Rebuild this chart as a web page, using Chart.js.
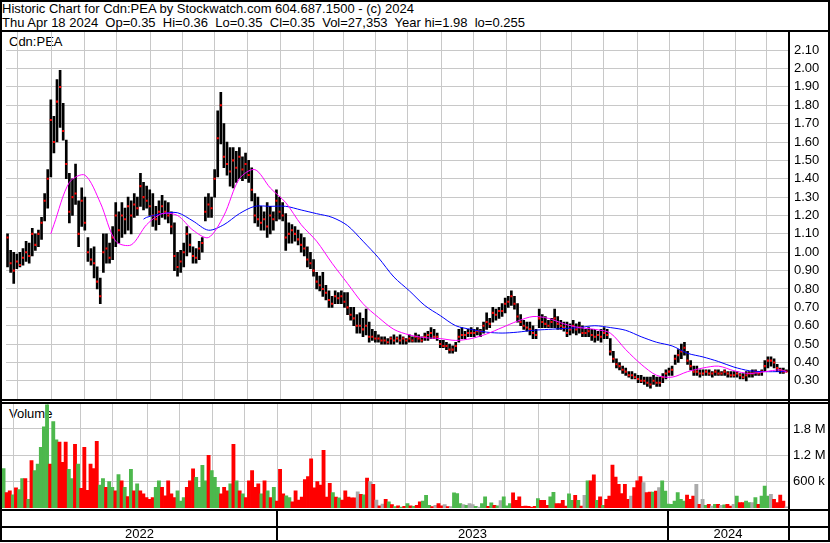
<!DOCTYPE html>
<html>
<head>
<meta charset="utf-8">
<script src="https://cdn.jsdelivr.net/npm/chart.js@4.4.1/dist/chart.umd.min.js"></script>
<style>
  body { margin: 0; background: #fff; }
  #wrap { position: relative; width: 830px; height: 543px; overflow: hidden;
          font-family: "Liberation Sans", Arial, sans-serif; font-size: 13px; color: #000; background: #fff; }
  .txt { position: absolute; white-space: pre; line-height: 15px; }
  .ln { position: absolute; background: #000; }
  canvas { position: absolute; }
</style>
</head>
<body>
<div id="wrap">
  <div class="txt" style="left:2px;top:1px">Historic Chart for Cdn:PEA by Stockwatch.com 604.687.1500 - (c) 2024</div>
  <div class="txt" style="left:2px;top:15px">Thu Apr 18 2024  Op=0.35  Hi=0.36  Lo=0.35  Cl=0.35  Vol=27,353  Year hi=1.98  lo=0.255</div>
  <div class="txt" style="left:9px;top:34px">Cdn:PEA</div>
  <div class="txt" style="left:9px;top:406px">Volume</div>
  <canvas id="price" width="826" height="367" style="left:2px;top:32px"></canvas>
  <canvas id="volume" width="826" height="136" style="left:2px;top:404px"></canvas>
  <div class="ln" style="left:0;top:0;width:830px;height:2px"></div>
  <div class="ln" style="left:0;top:0;width:2px;height:542px"></div>
  <div class="ln" style="left:828px;top:0;width:2px;height:542px"></div>
  <div class="ln" style="left:0;top:540px;width:830px;height:2px"></div>
  <div class="ln" style="left:0;top:30px;width:830px;height:2px"></div>
  <div class="ln" style="left:788px;top:32px;width:2px;height:509px"></div>
  <div class="ln" style="left:0;top:399px;width:830px;height:2px"></div>
  <div class="ln" style="left:0;top:402px;width:830px;height:2px"></div>
  <div class="ln" style="left:0;top:509px;width:830px;height:2px"></div>
  <div class="ln" style="left:0;top:526px;width:830px;height:2px"></div>
</div>
<script>
// one bar = two trading days, Apr 2022 .. Apr 18 2024
const hi = [
  1.10,1.01,1.00,0.99,1.00,1.02,1.06,1.05,1.13,1.10,
  1.12,1.19,1.32,1.45,1.83,1.74,1.94,1.99,1.81,1.61,
  1.43,1.40,1.48,1.28,1.35,1.30,1.08,1.02,1.03,0.92,
  0.86,1.10,1.10,1.05,1.14,1.27,1.22,1.27,1.24,1.30,
  1.28,1.32,1.30,1.43,1.38,1.36,1.34,1.32,1.25,1.28,
  1.31,1.28,1.27,1.22,1.16,1.00,1.01,1.05,1.14,1.10,
  1.03,1.02,1.06,1.08,1.30,1.32,1.30,1.45,1.77,1.87,
  1.70,1.60,1.57,1.57,1.55,1.57,1.52,1.54,1.50,1.46,
  1.32,1.30,1.25,1.22,1.27,1.25,1.22,1.34,1.30,1.27,
  1.21,1.16,1.15,1.14,1.12,1.10,1.08,1.03,1.00,0.96,
  0.89,0.87,0.89,0.82,0.79,0.76,0.79,0.78,0.79,0.78,
  0.78,0.70,0.70,0.66,0.67,0.64,0.69,0.62,0.58,0.57,
  0.55,0.54,0.54,0.53,0.54,0.55,0.54,0.55,0.54,0.53,
  0.55,0.54,0.56,0.55,0.54,0.56,0.57,0.59,0.58,0.56,
  0.52,0.52,0.51,0.50,0.49,0.51,0.58,0.59,0.57,0.58,
  0.59,0.58,0.59,0.58,0.62,0.67,0.64,0.70,0.69,0.70,
  0.72,0.75,0.76,0.79,0.76,0.72,0.66,0.63,0.62,0.62,
  0.60,0.58,0.69,0.66,0.65,0.63,0.64,0.69,0.65,0.63,
  0.62,0.62,0.61,0.63,0.61,0.62,0.60,0.58,0.59,0.58,
  0.58,0.57,0.58,0.59,0.58,0.53,0.46,0.42,0.40,0.38,
  0.37,0.35,0.35,0.34,0.33,0.33,0.32,0.32,0.32,0.33,
  0.32,0.32,0.34,0.36,0.37,0.38,0.44,0.47,0.50,0.51,
  0.46,0.41,0.38,0.38,0.36,0.36,0.36,0.36,0.35,0.36,
  0.36,0.35,0.36,0.35,0.35,0.35,0.35,0.34,0.34,0.35,
  0.35,0.36,0.36,0.35,0.36,0.41,0.43,0.43,0.42,0.39,0.37,0.37,0.36
];
const lo = [
  0.92,0.89,0.83,0.91,0.92,0.93,0.95,0.94,0.98,1.01,
  1.03,1.07,1.17,1.24,1.41,1.54,1.60,1.68,1.61,1.40,
  1.16,1.20,1.26,1.03,1.14,1.12,0.95,0.93,0.86,0.80,
  0.72,0.89,0.94,0.94,0.96,1.03,1.05,1.08,1.10,1.12,
  1.10,1.19,1.20,1.25,1.23,1.24,1.20,1.14,1.12,1.15,
  1.19,1.18,1.16,1.10,0.90,0.87,0.89,0.92,0.98,1.00,
  0.94,0.94,0.96,1.00,1.17,1.19,1.19,1.30,1.41,1.59,
  1.46,1.42,1.36,1.35,1.38,1.40,1.39,1.40,1.38,1.28,
  1.16,1.14,1.12,1.12,1.08,1.10,1.12,1.17,1.18,1.17,
  1.01,1.05,1.05,1.06,1.04,1.00,0.98,0.92,0.91,0.87,
  0.80,0.79,0.76,0.74,0.70,0.70,0.72,0.72,0.72,0.70,
  0.66,0.63,0.60,0.56,0.56,0.54,0.55,0.51,0.52,0.51,
  0.51,0.50,0.50,0.50,0.50,0.50,0.51,0.50,0.50,0.50,
  0.51,0.51,0.51,0.51,0.51,0.52,0.52,0.53,0.53,0.52,
  0.48,0.48,0.47,0.45,0.45,0.46,0.51,0.53,0.53,0.54,
  0.54,0.54,0.55,0.54,0.56,0.58,0.59,0.62,0.63,0.64,
  0.65,0.67,0.70,0.71,0.69,0.62,0.60,0.58,0.57,0.55,
  0.53,0.53,0.59,0.59,0.59,0.59,0.59,0.59,0.58,0.58,
  0.57,0.54,0.55,0.56,0.55,0.56,0.54,0.54,0.54,0.52,
  0.51,0.52,0.51,0.53,0.53,0.44,0.40,0.37,0.36,0.34,
  0.33,0.32,0.31,0.31,0.29,0.29,0.28,0.27,0.26,0.28,
  0.27,0.27,0.29,0.31,0.33,0.33,0.39,0.40,0.42,0.44,
  0.39,0.36,0.33,0.33,0.32,0.33,0.33,0.33,0.32,0.33,
  0.33,0.33,0.33,0.32,0.32,0.32,0.32,0.31,0.31,0.30,
  0.32,0.32,0.33,0.33,0.33,0.35,0.37,0.38,0.37,0.35,0.34,0.34,0.35
];
const cl = [
  1.08,0.94,0.90,0.95,0.93,0.97,1.00,0.98,1.10,1.04,
  1.10,1.16,1.28,1.40,1.72,1.60,1.82,1.90,1.66,1.48,
  1.22,1.30,1.32,1.10,1.28,1.16,1.00,0.96,0.94,0.84,
  0.76,1.00,1.02,0.97,1.08,1.20,1.12,1.20,1.18,1.25,
  1.20,1.26,1.24,1.36,1.30,1.28,1.25,1.20,1.18,1.22,
  1.25,1.22,1.20,1.14,0.98,0.92,0.95,1.00,1.10,1.04,
  0.98,0.97,1.02,1.05,1.22,1.26,1.24,1.40,1.62,1.80,
  1.52,1.48,1.44,1.50,1.46,1.52,1.45,1.48,1.42,1.34,
  1.20,1.18,1.16,1.18,1.14,1.20,1.18,1.28,1.22,1.20,
  1.08,1.10,1.12,1.10,1.07,1.04,1.02,0.96,0.94,0.90,
  0.84,0.82,0.80,0.78,0.74,0.72,0.76,0.75,0.76,0.73,
  0.70,0.66,0.64,0.60,0.60,0.58,0.60,0.54,0.54,0.53,
  0.53,0.52,0.52,0.51,0.53,0.52,0.53,0.52,0.53,0.52,
  0.53,0.52,0.54,0.53,0.52,0.54,0.55,0.56,0.54,0.54,
  0.50,0.49,0.49,0.47,0.47,0.49,0.54,0.55,0.55,0.56,
  0.56,0.56,0.57,0.57,0.60,0.62,0.61,0.67,0.66,0.68,
  0.68,0.72,0.73,0.76,0.72,0.65,0.62,0.60,0.59,0.58,
  0.56,0.55,0.64,0.62,0.61,0.60,0.62,0.64,0.61,0.60,
  0.59,0.56,0.58,0.60,0.58,0.59,0.56,0.56,0.57,0.55,
  0.54,0.55,0.54,0.56,0.55,0.46,0.42,0.39,0.38,0.36,
  0.35,0.33,0.33,0.32,0.31,0.30,0.30,0.29,0.28,0.30,
  0.29,0.29,0.32,0.34,0.35,0.36,0.42,0.44,0.46,0.48,
  0.41,0.38,0.35,0.35,0.34,0.34,0.35,0.34,0.34,0.35,
  0.34,0.34,0.35,0.34,0.33,0.33,0.34,0.33,0.32,0.33,
  0.34,0.34,0.35,0.34,0.35,0.38,0.41,0.41,0.40,0.37,0.36,0.35,0.35
];
// volume in thousands of shares
const volK = [
  900,350,390,300,460,420,670,670,200,1080,
  850,1000,1380,1850,2350,1000,1970,1550,1500,1040,
  1500,880,670,1450,1000,450,1380,400,1000,900,
  1520,520,670,470,600,470,390,760,620,470,
  260,880,390,550,390,320,240,200,240,470,
  620,470,280,620,320,240,390,160,240,470,
  620,890,700,470,970,620,1200,850,700,470,
  320,470,390,550,1450,620,390,320,240,620,
  850,470,550,320,620,390,240,470,160,880,
  320,280,240,140,390,180,250,650,715,1120,
  460,600,520,1315,250,560,350,250,230,180,
  390,250,230,230,370,310,300,680,600,540,
  180,50,90,200,140,80,30,50,20,40,
  100,50,40,60,140,160,290,60,30,60,
  100,50,80,30,30,345,330,100,80,60,
  100,80,40,20,100,254,40,120,60,50,
  170,254,50,100,345,177,254,40,46,40,
  20,40,215,177,177,62,254,355,100,100,
  177,46,320,177,290,177,46,290,620,620,
  754,177,254,62,200,274,980,707,540,327,
  540,198,274,464,616,714,578,350,360,360,
  388,464,616,388,90,84,160,350,198,160,
  296,198,274,540,84,198,60,84,46,84,
  84,60,70,84,46,84,274,122,122,160,
  122,122,236,84,274,500,274,312,198,122,296,160,27
];
// moving averages, read at bar positions
const maFastIdx = [14,15,20,25,30,35,40,45,50,55,60,65,70,75,80,85,90,95,100,105,110,115,120,125,130,135,140,145,150,155,160,165,170,175,180,185,190,195,200,205,210,215,220,225,230,235,240,245,250,252];
const maFast = [1.10,1.15,1.38,1.42,1.27,1.06,1.04,1.15,1.21,1.20,1.12,1.08,1.20,1.40,1.45,1.35,1.27,1.15,1.06,0.94,0.83,0.72,0.645,0.58,0.55,0.535,0.53,0.52,0.53,0.555,0.59,0.625,0.65,0.64,0.61,0.59,0.58,0.56,0.47,0.39,0.33,0.32,0.35,0.37,0.38,0.355,0.34,0.35,0.36,0.35];
const maSlowIdx = [44,45,50,55,60,65,70,75,80,85,90,95,100,105,110,115,120,125,130,135,140,145,150,155,160,165,170,175,180,185,190,195,200,205,210,215,220,225,230,235,240,245,250,252];
const maSlow = [1.18,1.19,1.21,1.215,1.17,1.12,1.15,1.21,1.25,1.25,1.25,1.23,1.21,1.19,1.145,1.06,0.97,0.865,0.79,0.71,0.655,0.60,0.58,0.565,0.56,0.565,0.575,0.58,0.585,0.59,0.60,0.59,0.575,0.54,0.51,0.49,0.45,0.43,0.405,0.375,0.355,0.35,0.35,0.35];

const priceTicks = [0.30,0.40,0.50,0.60,0.70,0.80,0.90,1.00,1.10,1.20,1.30,1.40,1.50,1.60,1.70,1.80,1.90,2.00,2.10];
const volTicks = [600000, 1200000, 1800000];
const volTickLabels = ['600 k', '1.2 M', '1.8 M'];
// month boundaries (bar index units) for the vertical grid
const monthStarts = [3.1,14.3,24.9,35.2,46.2,56.5,67.1,77.7,88.3,99.0,108.6,118.9,129.5,140.5,150.8,161.4,172.3,182.3,192.9,203.9,214.0,225.1,235.4,245.7];
const years = ['2022', '2023', '2024'];
const yearStarts = [88.0, 213.9];

const FONT = '"Liberation Sans", Arial, sans-serif';
const GRID = '#c8c8c8';
const UP = '#4db84d', DOWN = '#ff0000', FLAT = '#aaaaaa';

const xScale = () => ({
  type: 'linear', min: -0.5, max: 252.5, offset: false,
  afterBuildTicks: s => { s.ticks = monthStarts.map(v => ({ value: v })); },
  ticks: { display: false },
  grid: { color: GRID, drawTicks: false, offset: false },
  border: { display: false }
});

const priceConfig = () => ({
  type: 'bar',
  data: {
    datasets: [
      {
        type: 'line', label: 'fast', order: 1,
        data: maFastIdx.map((x, k) => ({ x, y: maFast[k] })),
        borderColor: '#ff00ff', borderWidth: 1, pointRadius: 0, tension: 0.3
      },
      {
        type: 'line', label: 'slow', order: 2,
        data: maSlowIdx.map((x, k) => ({ x, y: maSlow[k] })),
        borderColor: '#0000ff', borderWidth: 1, pointRadius: 0, tension: 0.3
      },
      {
        type: 'line', label: 'close', order: 3, showLine: false,
        data: cl.map((y, i) => ({ x: i, y })),
        pointStyle: 'rect', pointRadius: 1.45, pointBorderWidth: 0,
        pointBackgroundColor: '#ff0000'
      },
      {
        type: 'bar', label: 'range', order: 4,
        data: hi.map((h, i) => ({ x: i, y: [lo[i], h] })),
        backgroundColor: '#000', barThickness: 2
      }
    ]
  },
  options: {
    responsive: false, maintainAspectRatio: false, animation: false,
    plugins: { legend: { display: false }, tooltip: { enabled: false } },
    layout: { padding: 0 },
    scales: {
      x: xScale(),
      y: {
        position: 'right', min: 0.2, max: 2.2,
        afterBuildTicks: s => { s.ticks = priceTicks.map(v => ({ value: v })); },
        afterFit: s => { s.width = 40; },
        ticks: { autoSkip: false, padding: 6, color: '#000', font: { family: FONT, size: 13 },
                 callback: v => v.toFixed(2) },
        grid: { color: GRID, drawTicks: false },
        border: { display: false }
      }
    }
  }
});

const dateAxis = {
  id: 'dateAxis',
  afterDraw(chart) {
    const { ctx, chartArea, scales: { x } } = chart;
    const edges = [chartArea.left, ...yearStarts.map(v => x.getPixelForValue(v)), chartArea.right];
    const top = chartArea.bottom + 2;
    ctx.save();
    ctx.fillStyle = '#000';
    yearStarts.forEach(v => {
      const px = Math.round(x.getPixelForValue(v));
      ctx.fillRect(px - 1, top, 2, 30);
    });
    ctx.font = '13px ' + FONT;
    ctx.textAlign = 'center';
    ctx.textBaseline = 'middle';
    years.forEach((t, k) => ctx.fillText(t, (edges[k] + edges[k + 1]) / 2, chartArea.bottom + 26));
    ctx.restore();
  }
};

const volumeConfig = () => ({
  type: 'bar',
  data: {
    datasets: [{
      data: volK.map((v, i) => ({ x: i, y: v * 1000 })),
      backgroundColor: cl.map((c, i) => i === 0 || c > cl[i - 1] ? UP : (c < cl[i - 1] ? DOWN : FLAT)),
      barThickness: 3.2
    }]
  },
  options: {
    responsive: false, maintainAspectRatio: false, animation: false,
    plugins: { legend: { display: false }, tooltip: { enabled: false } },
    layout: { padding: { bottom: 34 } },
    scales: {
      x: xScale(),
      y: {
        position: 'right', min: 0, max: 2373000,
        afterBuildTicks: s => { s.ticks = volTicks.map(v => ({ value: v })); },
        afterFit: s => { s.width = 40; },
        ticks: { autoSkip: false, padding: 5, color: '#000', font: { family: FONT, size: 13 },
                 callback: v => volTickLabels[volTicks.indexOf(v)] },
        grid: { color: GRID, drawTicks: false },
        border: { display: false }
      }
    }
  },
  plugins: [dateAxis]
});

// build once to learn the axis padding, then size the canvas so the plot area lands on [areaTop, areaBottom]
function place(id, makeConfig, areaTop, areaBottom) {
  const el = document.getElementById(id);
  const probe = new Chart(el, makeConfig());
  const padTop = probe.chartArea.top;
  const padBottom = probe.height - probe.chartArea.bottom;
  probe.destroy();
  const top = Math.round(areaTop - padTop);
  el.width = 826;
  el.height = Math.round(areaBottom + padBottom) - top;
  el.style.top = top + 'px';
  el.style.left = '2px';
  return new Chart(el, makeConfig());
}

place('price', priceConfig, 32, 399);
place('volume', volumeConfig, 404, 508);
</script>
</body>
</html>
